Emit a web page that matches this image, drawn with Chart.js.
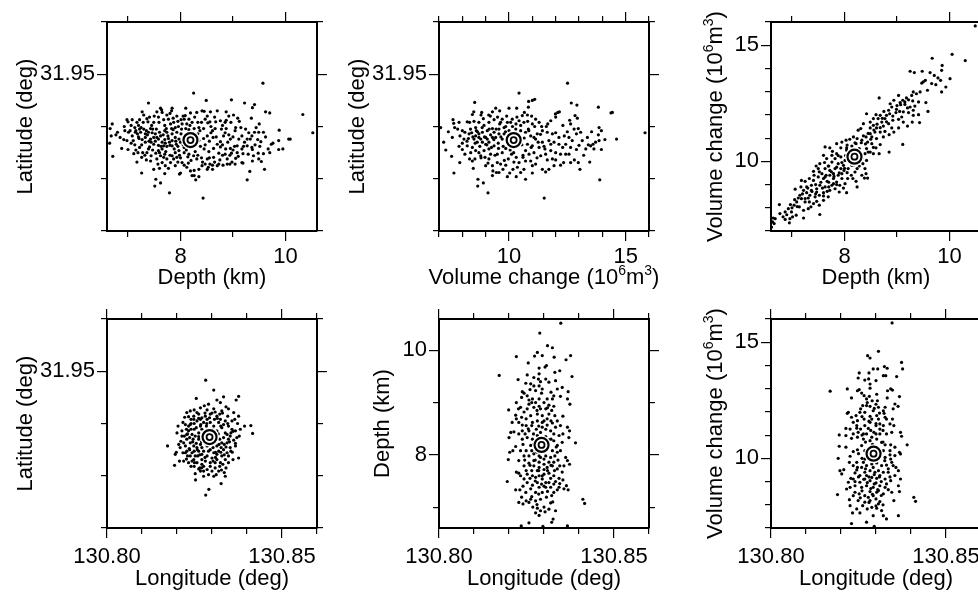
<!DOCTYPE html>
<html lang="en">
<head>
<meta charset="UTF-8">
<title>Mogi source parameter trade-offs</title>
<script src="https://cdn.jsdelivr.net/npm/chart.js"></script>
<style>
  body { margin: 0; width: 978px; height: 594px; overflow: hidden; background: #fff; position: relative; }
  canvas { position: absolute; }
</style>
</head>
<body>
<script>
// best-fit model
const bestLon = 130.8293, bestLat = 31.9374, bestDep = 8.19, bestVol = 10.2;

// axis ranges and ticks
const depthRange = [6.6, 10.6], volRange = [7, 16], latRange = [31.92, 31.96], lonRange = [130.80, 130.86];
const depthMajor = [8, 10], depthMinor = [7, 9];
const volMajor = [10, 15], volMinor = [7, 8, 9, 11, 12, 13, 14, 16];
const latMajor = [31.95], latMinor = [31.92, 31.93, 31.94, 31.96];
const lonMajor = [130.80, 130.85], lonMinor = [130.81, 130.82, 130.83, 130.84, 130.86];

// axis titles, [text, superscript]
const depthTitle = [['Depth (km)', 0]];
const volTitle = [['Volume change (10', 0], ['6', 1], ['m', 0], ['3', 1], [')', 0]];
const latTitle = [['Latitude (deg)', 0]];
const lonTitle = [['Longitude (deg)', 0]];

// samples: depth vs latitude
const depLat = [[9.57,31.9483],[8.25,31.9464],[10.33,31.9423],[10.52,31.9388],[7.39,31.9445],[8.49,31.9450],[8.97,31.9451],[9.22,31.9445],[9.41,31.9442],[9.37,31.9436],[9.62,31.9428],[9.70,31.9426],[6.70,31.9405],[6.66,31.9396],[6.68,31.9382],[6.65,31.9368],[6.77,31.9384],[6.71,31.9343],[6.88,31.9358],[7.00,31.9356],[7.26,31.9311],[7.53,31.9299],[7.62,31.9292],[7.51,31.9286],[7.79,31.9273],[8.43,31.9263],[9.27,31.9298],[9.32,31.9314],[9.60,31.9318],[9.54,31.9333],[9.37,31.9356],[9.88,31.9393],[9.87,31.9373],[10.06,31.9376],[10.09,31.9376],[9.95,31.9357],[9.87,31.9356],[9.76,31.9368],[9.73,31.9366],[9.67,31.9357],[9.48,31.9349],[9.51,31.9362],[9.36,31.9360],[9.17,31.9331],[9.58,31.9348],[9.49,31.9338],[8.19,31.9315],[8.26,31.9316],[8.00,31.9311],[7.98,31.9309],[8.26,31.9306],[8.22,31.9306],[8.29,31.9298],[8.35,31.9304],[8.61,31.9318],[8.53,31.9322],[8.61,31.9326],[8.56,31.9328],[8.81,31.9326],[8.73,31.9328],[8.98,31.9332],[8.89,31.9328],[9.19,31.9330],[9.10,31.9343],[9.05,31.9339],[9.03,31.9362],[9.19,31.9348],[9.27,31.9363],[9.36,31.9382],[9.49,31.9389],[9.41,31.9389],[9.58,31.9389],[9.44,31.9398],[9.35,31.9416],[9.24,31.9395],[9.15,31.9398],[9.04,31.9392],[8.96,31.9408],[9.09,31.9416],[9.01,31.9422],[8.87,31.9428],[8.65,31.9418],[8.67,31.9409],[8.76,31.9411],[8.85,31.9408],[8.51,31.9420],[8.56,31.9409],[8.45,31.9429],[8.41,31.9430],[8.31,31.9427],[8.19,31.9426],[8.10,31.9435],[7.84,31.9435],[7.83,31.9430],[7.62,31.9435],[7.55,31.9428],[7.65,31.9427],[7.64,31.9432],[7.27,31.9428],[7.30,31.9422],[7.22,31.9413],[7.29,31.9408],[7.38,31.9409],[7.49,31.9408],[7.00,31.9409],[6.98,31.9413],[6.94,31.9392],[7.01,31.9389],[7.13,31.9398],[7.22,31.9395],[7.08,31.9382],[7.10,31.9373],[7.21,31.9377],[7.26,31.9365],[7.33,31.9370],[7.44,31.9370],[7.37,31.9384],[7.49,31.9379],[7.58,31.9376],[7.67,31.9384],[7.70,31.9375],[7.62,31.9382],[7.74,31.9389],[7.83,31.9396],[7.90,31.9398],[7.96,31.9400],[8.01,31.9413],[8.07,31.9414],[8.09,31.9421],[8.16,31.9414],[8.22,31.9408],[8.26,31.9396],[8.37,31.9392],[8.44,31.9396],[8.52,31.9407],[8.61,31.9392],[8.66,31.9396],[8.78,31.9395],[8.87,31.9396],[8.82,31.9382],[8.92,31.9384],[8.95,31.9376],[8.76,31.9371],[8.62,31.9379],[8.51,31.9382],[8.44,31.9377],[8.35,31.9373],[8.38,31.9362],[8.45,31.9357],[8.54,31.9352],[8.63,31.9358],[8.73,31.9349],[8.76,31.9361],[8.86,31.9357],[8.94,31.9345],[8.89,31.9338],[8.75,31.9336],[8.63,31.9341],[8.51,31.9338],[8.47,31.9328],[8.42,31.9332],[8.31,31.9338],[8.25,31.9344],[8.16,31.9347],[8.07,31.9350],[7.98,31.9345],[7.93,31.9341],[7.87,31.9338],[7.81,31.9331],[7.77,31.9320],[7.71,31.9325],[7.65,31.9331],[7.57,31.9328],[7.49,31.9318],[7.43,31.9334],[7.35,31.9336],[7.32,31.9345],[7.28,31.9350],[7.19,31.9350],[7.11,31.9348],[7.17,31.9332],[7.26,31.9341],[7.44,31.9344],[7.53,31.9349],[7.58,31.9354],[7.65,31.9357],[7.74,31.9362],[7.84,31.9363],[7.92,31.9366],[8.00,31.9370],[8.06,31.9377],[8.01,31.9386],[7.93,31.9389],[7.84,31.9386],[7.77,31.9377],[7.79,31.9370],[7.88,31.9357],[7.70,31.9347],[7.62,31.9344],[7.55,31.9338],[7.39,31.9357],[7.41,31.9361],[7.13,31.9365],[6.98,31.9373],[6.85,31.9379],[6.80,31.9389],[6.93,31.9400],[7.06,31.9402],[7.17,31.9408],[7.30,31.9395],[7.43,31.9396],[7.54,31.9395],[7.59,31.9408],[7.68,31.9413],[7.77,31.9414],[7.86,31.9416],[7.93,31.9420],[7.74,31.9422],[7.50,31.9420],[7.41,31.9418],[8.10,31.9396],[8.16,31.9394],[8.21,31.9389],[8.33,31.9386],[8.33,31.9408],[8.40,31.9408],[8.27,31.9418],[8.70,31.9430],[8.57,31.9428],[8.87,31.9412],[9.11,31.9376],[9.17,31.9382],[9.27,31.9376],[9.33,31.9376],[9.47,31.9375],[9.53,31.9371],[9.22,31.9370],[9.08,31.9363],[8.95,31.9358],[9.08,31.9350],[8.97,31.9349],[8.85,31.9347],[9.17,31.9357],[9.29,31.9347],[9.39,31.9344],[9.37,31.9334],[9.04,31.9328],[8.94,31.9328],[8.70,31.9325],[8.51,31.9318],[8.41,31.9325],[8.12,31.9322],[8.07,31.9326],[8.03,31.9331],[7.95,31.9332],[7.84,31.9344],[7.74,31.9338],[7.68,31.9341],[7.97,31.9354],[8.07,31.9360],[8.12,31.9364],[7.24,31.9389],[7.33,31.9386],[7.39,31.9389],[7.46,31.9388],[7.52,31.9386],[7.55,31.9379],[7.65,31.9370],[7.71,31.9368],[7.33,31.9379],[7.43,31.9376],[7.27,31.9375],[7.18,31.9386],[7.04,31.9392],[7.14,31.9389],[7.49,31.9366],[7.58,31.9364],[7.68,31.9363],[7.90,31.9379],[7.97,31.9376],[7.84,31.9373],[7.73,31.9396],[7.81,31.9405],[7.87,31.9408],[8.03,31.9405],[8.12,31.9405],[8.25,31.9382],[8.30,31.9379],
  [7.15,31.9392],[7.20,31.9380],[7.25,31.9398],[7.35,31.9392],[7.40,31.9372],[7.47,31.9395],[7.52,31.9372],[7.60,31.9389],[7.63,31.9362],[7.70,31.9392],[7.76,31.9382],[7.80,31.9364],[7.86,31.9394],[7.91,31.9372],[7.95,31.9362],[8.02,31.9395],[8.05,31.9365],[8.11,31.9355],[8.14,31.9342],[8.20,31.9335],[8.28,31.9352],[8.33,31.9345],[8.40,31.9340],[8.47,31.9365],[8.55,31.9372],[8.58,31.9388],[8.68,31.9380],[8.70,31.9366],[8.80,31.9365],[8.85,31.9388],[8.90,31.9370],[9.00,31.9380],[9.05,31.9398],[9.12,31.9410],[8.92,31.9420],[8.80,31.9402],[8.58,31.9400],[8.47,31.9414],[8.35,31.9398],[8.18,31.9402],[8.05,31.9420],[7.95,31.9410],[7.80,31.9425],[7.70,31.9402],[7.58,31.9418],[7.45,31.9402],[7.36,31.9415],[7.20,31.9402],[7.08,31.9413],[6.92,31.9375],[7.06,31.9368],[7.15,31.9355],[7.22,31.9360],[7.36,31.9350],[7.47,31.9355],[7.60,31.9350],[7.72,31.9352],[7.80,31.9345],[7.90,31.9350],[8.00,31.9340],[7.60,31.9320],[7.70,31.9310],[7.90,31.9325],[8.15,31.9330],[8.35,31.9318],[8.55,31.9340],[8.65,31.9332],[8.80,31.9345],[9.00,31.9355],[9.20,31.9362],[9.42,31.9365],[9.30,31.9388],[9.50,31.9405],[9.62,31.9380],[9.70,31.9350]];

// samples: volume change vs latitude
const volLat = [[12.51,31.9483],[10.43,31.9464],[15.83,31.9388],[13.83,31.9437],[14.37,31.9426],[14.43,31.9427],[14.61,31.9376],[8.53,31.9446],[7.07,31.9398],[7.20,31.9370],[7.29,31.9355],[7.54,31.9343],[7.64,31.9311],[7.89,31.9331],[7.60,31.9413],[7.63,31.9406],[7.67,31.9398],[7.40,31.9390],[7.57,31.9379],[8.47,31.9320],[8.67,31.9299],[8.90,31.9292],[8.66,31.9286],[9.10,31.9273],[11.51,31.9263],[13.89,31.9298],[13.04,31.9318],[13.46,31.9332],[12.80,31.9336],[12.97,31.9331],[12.64,31.9331],[12.34,31.9331],[12.57,31.9347],[12.89,31.9356],[13.29,31.9357],[13.50,31.9363],[13.60,31.9366],[13.71,31.9370],[13.86,31.9373],[14.11,31.9375],[13.64,31.9357],[13.96,31.9356],[13.83,31.9384],[13.96,31.9392],[13.54,31.9390],[13.86,31.9398],[12.89,31.9386],[12.97,31.9396],[12.79,31.9395],[12.57,31.9379],[12.37,31.9382],[12.14,31.9379],[12.00,31.9388],[12.31,31.9402],[12.60,31.9412],[12.83,31.9421],[12.93,31.9416],[12.67,31.9445],[12.91,31.9441],[12.09,31.9427],[12.16,31.9428],[12.00,31.9418],[11.99,31.9424],[11.79,31.9411],[11.66,31.9405],[11.40,31.9400],[11.10,31.9452],[11.00,31.9450],[10.84,31.9448],[10.83,31.9437],[10.66,31.9427],[10.33,31.9435],[10.00,31.9435],[9.60,31.9430],[9.43,31.9435],[9.29,31.9428],[9.13,31.9422],[8.83,31.9427],[8.80,31.9422],[8.49,31.9428],[8.43,31.9423],[8.21,31.9409],[8.31,31.9408],[8.00,31.9392],[8.11,31.9389],[7.90,31.9382],[8.29,31.9386],[8.26,31.9377],[8.60,31.9392],[8.71,31.9386],[8.93,31.9402],[9.14,31.9408],[9.36,31.9413],[9.51,31.9418],[9.71,31.9414],[9.93,31.9408],[10.14,31.9414],[10.34,31.9418],[10.57,31.9421],[10.79,31.9422],[10.97,31.9420],[11.14,31.9414],[11.29,31.9408],[11.00,31.9405],[10.83,31.9395],[10.71,31.9389],[10.93,31.9382],[11.07,31.9379],[11.21,31.9386],[11.43,31.9392],[11.64,31.9389],[11.86,31.9386],[11.71,31.9373],[11.93,31.9370],[12.14,31.9366],[11.43,31.9370],[11.29,31.9360],[11.54,31.9357],[11.79,31.9354],[12.00,31.9350],[11.57,31.9347],[11.36,31.9344],[11.64,31.9336],[11.86,31.9338],[11.93,31.9325],[11.71,31.9318],[11.57,31.9313],[11.14,31.9328],[11.00,31.9325],[10.93,31.9334],[10.71,31.9334],[10.60,31.9341],[10.43,31.9331],[10.21,31.9332],[10.17,31.9318],[10.31,31.9304],[10.71,31.9299],[10.03,31.9311],[9.93,31.9304],[9.86,31.9326],[9.64,31.9328],[9.50,31.9331],[9.29,31.9325],[9.31,31.9315],[9.57,31.9312],[9.00,31.9325],[9.14,31.9338],[8.97,31.9341],[8.79,31.9344],[8.54,31.9338],[8.43,31.9334],[8.31,31.9338],[8.11,31.9347],[8.00,31.9356],[7.86,31.9362],[8.21,31.9363],[8.43,31.9360],[8.64,31.9370],[8.79,31.9376],[9.00,31.9379],[9.21,31.9384],[9.36,31.9389],[9.57,31.9395],[9.79,31.9398],[10.00,31.9392],[10.29,31.9395],[10.50,31.9402],[10.64,31.9408],[10.43,31.9411],[10.07,31.9408],[9.71,31.9376],[9.54,31.9368],[9.36,31.9363],[9.14,31.9357],[8.93,31.9354],[8.71,31.9350],[9.50,31.9347],[9.71,31.9350],[9.86,31.9358],[10.71,31.9354],[10.86,31.9347],[11.07,31.9350],[10.64,31.9318],[10.50,31.9312],[10.36,31.9322],[9.97,31.9338],[9.14,31.9370],[9.00,31.9366],[8.86,31.9389],[9.07,31.9392],[9.29,31.9396],[8.50,31.9376],[8.07,31.9376],[8.36,31.9350],[8.57,31.9354],[9.57,31.9386],[9.43,31.9379],[10.50,31.9392],[10.79,31.9366],[11.00,31.9363],[11.14,31.9376],[12.21,31.9347],[12.43,31.9347],[12.00,31.9336],[12.21,31.9326],[11.79,31.9366],[8.71,31.9408],[8.57,31.9398],[8.40,31.9388],[7.86,31.9408],[9.93,31.9379],[9.79,31.9386],[9.64,31.9408],[9.86,31.9400],[10.21,31.9382],[9.21,31.9347],[9.29,31.9306],[9.46,31.9312],[9.74,31.9318],[11.43,31.9318],[11.00,31.9311],[10.31,31.9341],[10.11,31.9347],[12.71,31.9373],[13.14,31.9373],[13.36,31.9379],[13.07,31.9389],[12.64,31.9405],[12.43,31.9366],[12.64,31.9360],[13.00,31.9364],[8.71,31.9379],[8.86,31.9370],[8.57,31.9382],[9.07,31.9376],[9.29,31.9379],
  [8.35,31.9395],[8.45,31.9380],[8.55,31.9368],[8.65,31.9390],[8.75,31.9362],[8.85,31.9398],[8.95,31.9380],[9.05,31.9365],[9.15,31.9395],[9.25,31.9360],[9.35,31.9375],[9.45,31.9395],[9.55,31.9358],[9.65,31.9380],[9.75,31.9362],[9.85,31.9390],[9.95,31.9366],[10.05,31.9355],[10.15,31.9400],[10.40,31.9385],[10.55,31.9365],[10.65,31.9378],[10.85,31.9392],[10.95,31.9360],[11.10,31.9400],[11.25,31.9370],[11.35,31.9385],[11.50,31.9362],[11.60,31.9400],[8.50,31.9410],[8.90,31.9415],[9.20,31.9420],[9.60,31.9405],[9.90,31.9420],[10.30,31.9405],[10.80,31.9410],[8.80,31.9340],[9.10,31.9330],[9.40,31.9345],[9.80,31.9335],[10.20,31.9350],[10.60,31.9345],[11.20,31.9340],[8.20,31.9372],[8.00,31.9368],[7.80,31.9395],[12.30,31.9360],[12.50,31.9390],[13.20,31.9345],[13.40,31.9365]];

// samples: depth vs volume change
const depVol = [[10.49,15.83],[10.05,14.61],[10.30,14.34],[9.67,14.44],[9.86,14.13],[9.85,13.92],[9.25,13.88],[9.33,13.82],[9.48,13.88],[9.63,13.82],[9.71,13.70],[9.78,13.59],[9.83,13.49],[10.01,13.56],[9.54,13.49],[9.50,13.42],[9.47,13.37],[9.66,13.35],[9.74,13.30],[9.93,13.20],[9.85,12.99],[9.58,13.06],[9.44,12.99],[9.37,12.91],[9.31,12.99],[9.28,12.84],[9.03,12.84],[8.66,12.73],[9.18,12.73],[9.11,12.63],[9.15,12.56],[9.06,12.53],[9.55,12.53],[9.41,12.56],[9.34,12.38],[9.25,12.34],[9.20,12.30],[9.59,12.15],[9.41,12.01],[9.43,11.67],[9.29,11.69],[9.20,11.52],[9.31,11.98],[9.12,12.13],[8.99,12.24],[8.90,12.34],[8.84,12.20],[8.75,12.15],[8.60,12.01],[8.42,12.05],[8.77,11.84],[8.71,11.69],[8.64,11.84],[8.55,11.55],[8.49,11.44],[8.61,11.44],[8.74,11.52],[8.84,11.62],[8.92,11.77],[9.03,11.81],[9.09,11.91],[8.94,11.26],[8.85,11.15],[8.77,11.29],[8.68,11.26],[8.58,11.26],[8.49,11.19],[8.41,11.05],[8.31,11.41],[8.26,11.34],[8.17,11.05],[8.10,10.95],[8.03,10.91],[8.24,10.98],[8.33,10.91],[8.44,10.83],[8.52,10.76],[8.60,10.58],[8.68,10.72],[8.66,10.33],[8.85,10.40],[9.11,10.73],[8.49,10.40],[8.39,10.33],[8.42,10.04],[8.35,9.90],[8.28,9.80],[8.39,9.69],[8.38,9.28],[8.44,9.28],[8.22,9.14],[8.24,8.90],[8.20,9.54],[8.13,9.40],[8.05,9.51],[7.99,9.61],[7.93,9.69],[8.01,10.04],[7.93,10.19],[7.85,10.33],[7.77,10.43],[7.72,10.58],[7.63,10.62],[7.93,10.58],[7.82,10.12],[7.76,9.97],[7.66,10.12],[7.60,10.26],[7.53,9.90],[7.46,9.80],[7.41,9.57],[7.50,9.69],[7.63,9.69],[7.72,9.61],[7.79,9.47],[7.88,9.40],[8.01,9.04],[7.98,8.85],[8.04,8.65],[7.90,8.68],[7.82,8.82],[7.76,8.97],[7.67,9.14],[7.60,9.26],[7.50,9.33],[7.41,9.18],[7.33,9.26],[7.25,9.14],[7.18,9.18],[7.17,8.90],[7.22,8.75],[7.28,8.65],[7.34,8.54],[7.44,8.47],[7.52,8.54],[7.60,8.65],[7.67,8.71],[7.69,8.47],[7.60,8.32],[7.52,8.11],[7.41,8.18],[7.33,8.25],[7.25,8.25],[7.18,8.39],[7.12,8.42],[7.06,8.80],[7.14,8.04],[7.04,8.11],[6.97,8.14],[6.93,7.96],[6.87,7.82],[6.83,7.61],[6.96,7.53],[6.95,7.35],[7.01,7.61],[7.08,7.68],[7.22,7.56],[7.53,7.71],[6.76,8.14],[6.68,7.53],[6.64,7.56],[6.63,7.39],[6.61,7.17],[6.66,7.32],[7.31,7.96],[7.47,8.82],[7.53,8.97],[7.63,8.90],[7.79,9.26],[7.85,9.11],[7.95,9.26],[8.07,9.69],[8.14,9.83],[8.17,10.00],[8.26,10.12],[8.30,10.26],[8.20,10.33],[8.10,10.33],[8.04,10.48],[8.14,10.66],[8.22,10.76],[8.04,10.58],[7.95,10.83],[7.85,10.76],[7.76,10.26],[7.69,9.80],[7.57,9.47],[7.37,8.97],[7.28,8.90],[7.47,8.68],[7.37,8.75],[7.88,9.90],[7.82,9.69],[8.42,10.55],[8.52,11.05],[8.36,11.62],[8.49,11.69],[8.55,11.84],[8.68,11.98],[8.80,11.98],[8.98,12.10],[8.87,12.48],[8.94,12.63],[9.07,12.44],[9.22,12.10],[9.31,12.20],[9.12,11.69],[9.03,11.44],[8.90,11.44],[8.74,11.05],[8.61,10.98],[8.55,10.33],[8.33,10.12],[8.24,9.69],[8.16,9.26],[8.06,9.26],[7.95,9.47],[8.41,9.47],[8.33,9.40],[7.91,8.97],[7.72,8.75],[7.15,8.54],[7.09,8.25],[6.99,7.82],[7.22,7.89],[7.36,8.04],[7.47,8.28],[7.60,8.51],[7.79,9.04],[7.98,9.83],[8.07,10.19],[7.72,9.40],[7.63,9.33],[7.31,8.42],[6.87,7.50],[6.77,7.75],
  [7.20,8.60],[7.30,8.85],[7.38,8.70],[7.45,9.00],[7.55,9.10],[7.58,8.85],[7.65,9.40],[7.70,9.10],[7.75,9.55],[7.80,9.35],[7.85,9.75],[7.90,9.50],[7.95,9.95],[8.00,9.70],[8.02,10.25],[8.08,10.05],[8.12,10.45],[8.28,10.55],[8.32,10.80],[8.36,11.10],[8.45,11.20],[8.50,10.95],[8.56,11.35],[8.62,11.60],[8.68,11.45],[8.72,11.85],[8.80,11.70],[8.86,12.05],[8.92,11.95],[9.00,12.40],[9.05,12.15],[9.15,12.45],[9.22,12.65],[9.30,12.60],[7.05,8.35],[7.10,8.05],[6.90,7.70],[7.00,8.00],[7.42,9.40],[7.52,9.55],[7.62,9.95],[7.70,9.80],[8.18,9.85],[8.30,9.95],[8.45,10.40],[8.55,10.60],[8.40,10.75],[8.20,10.80],[8.05,10.70],[7.88,10.25],[7.70,8.90],[7.85,9.00],[7.45,8.60],[7.25,8.40]];

// samples: longitude vs latitude
const lonLat = [[130.8282,31.9483],[130.8305,31.9464],[130.8255,31.9448],[130.8333,31.9451],[130.8376,31.9452],[130.8369,31.9445],[130.8314,31.9445],[130.8324,31.9440],[130.8290,31.9437],[130.8340,31.9432],[130.8347,31.9428],[130.8278,31.9434],[130.8267,31.9430],[130.8249,31.9426],[130.8238,31.9424],[130.8233,31.9413],[130.8222,31.9412],[130.8262,31.9418],[130.8286,31.9426],[130.8305,31.9428],[130.8328,31.9424],[130.8345,31.9414],[130.8362,31.9421],[130.8376,31.9414],[130.8365,31.9408],[130.8357,31.9405],[130.8373,31.9400],[130.8393,31.9395],[130.8411,31.9396],[130.8416,31.9381],[130.8378,31.9376],[130.8371,31.9373],[130.8362,31.9368],[130.8367,31.9357],[130.8352,31.9354],[130.8376,31.9334],[130.8360,31.9331],[130.8347,31.9325],[130.8340,31.9315],[130.8327,31.9311],[130.8335,31.9306],[130.8338,31.9299],[130.8326,31.9285],[130.8305,31.9299],[130.8276,31.9299],[130.8253,31.9292],[130.8252,31.9304],[130.8265,31.9315],[130.8240,31.9318],[130.8233,31.9325],[130.8219,31.9328],[130.8207,31.9328],[130.8193,31.9320],[130.8198,31.9345],[130.8195,31.9341],[130.8173,31.9357],[130.8203,31.9395],[130.8200,31.9382],[130.8214,31.9376],[130.8219,31.9363],[130.8224,31.9357],[130.8228,31.9347],[130.8238,31.9338],[130.8248,31.9331],[130.8257,31.9325],[130.8271,31.9322],[130.8281,31.9328],[130.8295,31.9318],[130.8309,31.9315],[130.8324,31.9325],[130.8338,31.9331],[130.8343,31.9344],[130.8333,31.9350],[130.8319,31.9347],[130.8314,31.9357],[130.8328,31.9363],[130.8343,31.9363],[130.8352,31.9376],[130.8338,31.9382],[130.8328,31.9392],[130.8314,31.9386],[130.8305,31.9395],[130.8295,31.9402],[130.8286,31.9408],[130.8276,31.9402],[130.8267,31.9395],[130.8257,31.9405],[130.8248,31.9408],[130.8238,31.9398],[130.8233,31.9386],[130.8243,31.9379],[130.8252,31.9376],[130.8262,31.9370],[130.8267,31.9360],[130.8257,31.9354],[130.8248,31.9357],[130.8238,31.9363],[130.8228,31.9370],[130.8224,31.9398],[130.8228,31.9421],[130.8248,31.9414],[130.8271,31.9411],[130.8295,31.9418],[130.8314,31.9414],[130.8324,31.9408],[130.8338,31.9405],[130.8347,31.9395],[130.8357,31.9389],[130.8367,31.9386],[130.8271,31.9389],[130.8276,31.9379],[130.8286,31.9357],[130.8295,31.9350],[130.8305,31.9344],[130.8286,31.9338],[130.8271,31.9341],[130.8262,31.9347],[130.8276,31.9347],[130.8300,31.9334],[130.8314,31.9331],[130.8328,31.9338],[130.8322,31.9318],[130.8300,31.9309],[130.8290,31.9302],[130.8286,31.9312],[130.8267,31.9309],[130.8249,31.9318],[130.8243,31.9344],[130.8230,31.9338],[130.8217,31.9344],[130.8209,31.9354],[130.8221,31.9376],[130.8236,31.9373],[130.8249,31.9389],[130.8262,31.9382],[130.8307,31.9366],[130.8322,31.9370],[130.8333,31.9373],[130.8343,31.9379],[130.8319,31.9402],[130.8307,31.9408],[130.8297,31.9389],[130.8284,31.9395],[130.8290,31.9382],[130.8267,31.9408],[130.8257,31.9421],[130.8240,31.9408],[130.8233,31.9395],[130.8217,31.9402],[130.8291,31.9274],[130.8282,31.9263],[130.8381,31.9389],[130.8367,31.9362],[130.8303,31.9328],[130.8312,31.9302],[130.8281,31.9366],[130.8252,31.9338],[130.8243,31.9328],[130.8276,31.9318],[130.8224,31.9344],[130.8228,31.9379],[130.8246,31.9370],[130.8255,31.9362],[130.8271,31.9354],[130.8281,31.9362],[130.8290,31.9347],[130.8303,31.9354],[130.8314,31.9341],[130.8326,31.9354],[130.8335,31.9360],[130.8347,31.9370],[130.8354,31.9382],[130.8333,31.9398],[130.8322,31.9418],[130.8309,31.9422],[130.8293,31.9411],[130.8281,31.9414],[130.8268,31.9398],[130.8249,31.9400],[130.8240,31.9389],[130.8227,31.9389],[130.8214,31.9386],[130.8211,31.9366],[130.8205,31.9360],[130.8236,31.9350],[130.8249,31.9347],[130.8259,31.9338],[130.8271,31.9331],[130.8309,31.9325],[130.8331,31.9322],[130.8347,31.9338],[130.8354,31.9347],[130.8227,31.9332],[130.8262,31.9313],[130.8319,31.9309],[130.8276,31.9309],
  [130.8255,31.9392],[130.8262,31.9375],[130.8270,31.9365],[130.8278,31.9385],[130.8285,31.9400],[130.8298,31.9375],[130.8310,31.9345],[130.8318,31.9380],[130.8325,31.9395],[130.8335,31.9340],[130.8340,31.9355],[130.8350,31.9365],[130.8360,31.9385],[130.8245,31.9365],[130.8235,31.9352],[130.8230,31.9380],[130.8265,31.9340],[130.8280,31.9335],[130.8295,31.9325],[130.8310,31.9335],[130.8325,31.9345],[130.8300,31.9420],[130.8280,31.9420],[130.8262,31.9410],[130.8315,31.9410],[130.8330,31.9420],[130.8250,31.9325],[130.8270,31.9315],[130.8320,31.9360],[130.8240,31.9400],[130.8358,31.9345],[130.8345,31.9400],[130.8288,31.9375],[130.8302,31.9388],[130.8258,31.9350]];

// samples: longitude vs depth
const lonDep = [[130.8348,10.52],[130.8288,10.33],[130.8221,9.88],[130.8172,9.52],[130.8310,10.09],[130.8324,10.05],[130.8281,9.96],[130.8273,9.89],[130.8295,9.90],[130.8307,9.71],[130.8329,9.87],[130.8376,9.90],[130.8363,9.82],[130.8255,9.76],[130.8286,9.66],[130.8303,9.68],[130.8226,9.44],[130.8252,9.53],[130.8271,9.48],[130.8286,9.55],[130.8284,9.45],[130.8331,9.58],[130.8345,9.61],[130.8380,9.50],[130.8305,9.45],[130.8314,9.39],[130.8333,9.42],[130.8262,9.36],[130.8248,9.37],[130.8243,9.18],[130.8252,9.13],[130.8271,9.32],[130.8286,9.32],[130.8276,9.23],[130.8295,9.26],[130.8293,9.18],[130.8352,9.29],[130.8338,9.26],[130.8369,9.21],[130.8347,9.12],[130.8367,9.07],[130.8374,8.97],[130.8238,9.21],[130.8236,9.10],[130.8221,9.00],[130.8257,9.05],[130.8267,9.07],[130.8286,9.07],[130.8309,9.07],[130.8324,9.07],[130.8328,9.13],[130.8314,8.95],[130.8328,8.93],[130.8305,8.88],[130.8286,8.93],[130.8271,8.91],[130.8252,8.88],[130.8233,8.91],[130.8227,8.88],[130.8199,8.86],[130.8219,8.76],[130.8236,8.72],[130.8249,8.69],[130.8262,8.75],[130.8281,8.78],[130.8295,8.75],[130.8314,8.78],[130.8331,8.75],[130.8354,8.74],[130.8338,8.65],[130.8324,8.61],[130.8309,8.57],[130.8295,8.62],[130.8281,8.65],[130.8267,8.62],[130.8249,8.56],[130.8257,8.46],[130.8246,8.40],[130.8228,8.40],[130.8214,8.44],[130.8205,8.43],[130.8200,8.33],[130.8238,8.30],[130.8252,8.33],[130.8267,8.30],[130.8281,8.37],[130.8290,8.43],[130.8305,8.49],[130.8319,8.46],[130.8333,8.53],[130.8347,8.56],[130.8367,8.53],[130.8354,8.40],[130.8373,8.46],[130.8371,8.33],[130.8390,8.23],[130.8352,8.24],[130.8338,8.18],[130.8328,8.27],[130.8314,8.29],[130.8324,8.08],[130.8338,8.05],[130.8347,8.08],[130.8362,7.95],[130.8367,7.89],[130.8373,7.82],[130.8357,7.79],[130.8352,7.67],[130.8338,7.73],[130.8324,7.79],[130.8314,7.86],[130.8300,7.92],[130.8286,7.98],[130.8271,8.02],[130.8257,7.98],[130.8243,7.98],[130.8233,8.08],[130.8219,8.16],[130.8211,8.08],[130.8202,8.05],[130.8198,7.91],[130.8228,7.89],[130.8243,7.79],[130.8257,7.84],[130.8271,7.79],[130.8286,7.76],[130.8300,7.72],[130.8314,7.65],[130.8328,7.60],[130.8343,7.55],[130.8354,7.52],[130.8364,7.41],[130.8369,7.33],[130.8357,7.35],[130.8338,7.33],[130.8328,7.28],[130.8322,7.22],[130.8307,7.19],[130.8290,7.15],[130.8276,7.12],[130.8262,7.15],[130.8249,7.12],[130.8236,7.19],[130.8228,7.09],[130.8240,7.06],[130.8257,7.09],[130.8268,7.00],[130.8281,6.98],[130.8290,6.93],[130.8303,6.91],[130.8314,6.96],[130.8333,6.93],[130.8319,7.08],[130.8305,7.38],[130.8293,7.44],[130.8281,7.47],[130.8267,7.42],[130.8252,7.47],[130.8243,7.54],[130.8233,7.60],[130.8228,7.65],[130.8221,7.67],[130.8252,7.63],[130.8267,7.60],[130.8286,7.60],[130.8295,7.54],[130.8314,7.47],[130.8328,7.44],[130.8343,7.38],[130.8195,7.49],[130.8219,7.33],[130.8231,7.33],[130.8248,7.28],[130.8276,7.28],[130.8295,7.28],[130.8276,6.89],[130.8286,6.84],[130.8326,6.77],[130.8322,6.71],[130.8257,6.70],[130.8235,6.64],[130.8297,6.63],[130.8367,6.64],[130.8411,7.15],[130.8416,7.07],[130.8221,8.69],[130.8209,8.62],[130.8238,8.57],[130.8262,8.18],[130.8276,8.14],[130.8305,8.08],[130.8271,7.89],[130.8286,7.86],[130.8265,8.56],[130.8278,8.49],[130.8295,8.53],[130.8309,8.69],[130.8322,8.85],[130.8290,8.88],[130.8276,9.00],[130.8257,8.97],[130.8243,8.82],[130.8249,8.08],[130.8265,8.08],[130.8305,7.98],[130.8319,7.95],[130.8328,7.86],[130.8309,7.76],[130.8281,7.70],[130.8265,7.70],[130.8249,7.70],[130.8276,7.57],[130.8300,7.63],[130.8319,7.55],[130.8305,7.47],[130.8286,7.38],[130.8262,7.35],[130.8319,7.38],[130.8333,7.49],[130.8345,7.79],[130.8331,7.98],[130.8343,8.37],[130.8328,8.40],[130.8238,8.46],[130.8228,8.62],
  [130.8280,8.05],[130.8290,7.95],[130.8300,7.82],[130.8285,7.70],[130.8295,7.60],[130.8275,7.50],[130.8300,7.40],[130.8310,7.30],[130.8285,7.25],[130.8265,7.20],[130.8310,7.70],[130.8320,7.80],[130.8275,7.90],[130.8260,7.80],[130.8260,7.55],[130.8240,7.40],[130.8320,8.30],[130.8305,8.35],[130.8270,8.40],[130.8255,8.50],[130.8285,8.55],[130.8300,8.65],[130.8320,8.65],[130.8310,8.90],[130.8280,8.85],[130.8265,9.00],[130.8300,9.00],[130.8320,9.20],[130.8260,9.25],[130.8290,9.40],[130.8335,8.15],[130.8340,7.90],[130.8330,7.70],[130.8245,7.90],[130.8240,8.20],[130.8345,7.45],[130.8325,7.10],[130.8280,7.05],[130.8300,7.00],[130.8270,8.20],[130.8295,8.25]];

// samples: longitude vs volume change
const lonVol = [[130.8346,15.83],[130.8307,14.61],[130.8276,14.42],[130.8283,14.32],[130.8373,14.13],[130.8376,13.85],[130.8324,13.95],[130.8332,13.88],[130.8292,13.85],[130.8305,13.85],[130.8321,13.56],[130.8328,13.56],[130.8252,13.68],[130.8280,13.68],[130.8249,13.46],[130.8268,13.37],[130.8279,13.42],[130.8300,13.35],[130.8359,13.52],[130.8169,12.89],[130.8218,12.99],[130.8247,12.91],[130.8252,12.96],[130.8283,13.02],[130.8283,13.20],[130.8333,12.91],[130.8342,12.99],[130.8347,12.94],[130.8259,12.81],[130.8266,12.70],[130.8281,12.67],[130.8302,12.76],[130.8289,12.48],[130.8304,12.48],[130.8332,12.60],[130.8367,12.66],[130.8230,12.60],[130.8262,12.27],[130.8256,12.13],[130.8273,12.27],[130.8283,12.24],[130.8300,12.33],[130.8326,12.20],[130.8321,12.05],[130.8349,12.13],[130.8354,12.34],[130.8363,12.24],[130.8221,11.98],[130.8218,11.94],[130.8230,11.77],[130.8243,11.84],[130.8254,11.98],[130.8268,11.98],[130.8283,11.81],[130.8302,11.84],[130.8323,11.94],[130.8330,11.69],[130.8347,11.69],[130.8340,11.48],[130.8351,11.41],[130.8321,11.41],[130.8311,11.48],[130.8300,11.41],[130.8283,11.55],[130.8266,11.69],[130.8247,11.62],[130.8235,11.55],[130.8245,11.41],[130.8214,11.29],[130.8226,11.26],[130.8256,11.26],[130.8278,11.29],[130.8294,11.12],[130.8311,11.05],[130.8330,11.05],[130.8345,11.12],[130.8370,11.12],[130.8373,10.95],[130.8389,10.58],[130.8195,11.01],[130.8214,10.98],[130.8230,10.86],[130.8247,10.91],[130.8264,10.83],[130.8283,10.76],[130.8302,10.83],[130.8316,10.69],[130.8326,10.58],[130.8342,10.58],[130.8354,10.48],[130.8367,10.26],[130.8370,10.19],[130.8354,10.12],[130.8342,9.97],[130.8326,10.04],[130.8311,10.09],[130.8259,10.55],[130.8247,10.37],[130.8235,10.29],[130.8226,10.09],[130.8214,10.48],[130.8195,10.52],[130.8192,10.00],[130.8197,9.47],[130.8202,9.33],[130.8208,9.51],[130.8224,9.83],[130.8235,9.69],[130.8247,9.61],[130.8259,9.61],[130.8273,9.69],[130.8288,9.76],[130.8302,9.80],[130.8316,9.69],[130.8330,9.71],[130.8345,9.83],[130.8357,9.61],[130.8364,9.47],[130.8354,9.26],[130.8370,9.11],[130.8364,8.82],[130.8367,8.57],[130.8342,9.04],[130.8326,9.11],[130.8311,9.26],[130.8297,9.40],[130.8283,9.47],[130.8268,9.40],[130.8254,9.26],[130.8240,9.37],[130.8228,9.14],[130.8221,8.97],[130.8226,8.75],[130.8216,8.68],[130.8240,8.82],[130.8254,8.97],[130.8268,9.11],[130.8283,9.04],[130.8300,8.94],[130.8311,8.82],[130.8326,8.75],[130.8335,8.65],[130.8345,8.54],[130.8321,8.47],[130.8302,8.54],[130.8283,8.57],[130.8268,8.39],[130.8252,8.47],[130.8235,8.39],[130.8224,8.22],[130.8249,8.18],[130.8268,8.11],[130.8283,8.18],[130.8300,8.25],[130.8311,8.14],[130.8321,7.53],[130.8330,7.39],[130.8316,7.75],[130.8302,7.85],[130.8288,7.89],[130.8275,7.82],[130.8254,7.65],[130.8233,7.65],[130.8226,7.96],[130.8190,8.44],[130.8351,8.18],[130.8364,7.53],[130.8408,8.32],[130.8413,8.15],[130.8273,7.25],[130.8230,7.19],[130.8295,7.07],[130.8292,7.53],[130.8307,8.04],[130.8245,7.82],[130.8268,11.41],[130.8288,11.69],[130.8307,11.69],[130.8273,11.05],[130.8288,10.91],[130.8268,10.33],[130.8321,10.33],[130.8268,9.97],[130.8292,9.61],[130.8307,9.47],[130.8321,9.40],[130.8273,9.26],[130.8288,9.18],[130.8302,9.14],[130.8259,8.75],[130.8273,8.82],[130.8292,8.75],[130.8307,8.61],[130.8278,8.32],[130.8292,8.39],[130.8240,8.54],[130.8262,7.96],[130.8335,9.40],[130.8235,9.11],[130.8245,9.83],[130.8264,9.83],[130.8340,10.33],[130.8349,9.69],[130.8249,11.12],[130.8235,11.05],[130.8264,11.05],[130.8311,11.26],[130.8326,11.77],[130.8292,12.05],[130.8273,12.56],[130.8307,12.20],
  [130.8280,9.20],[130.8295,9.30],[130.8310,9.20],[130.8265,9.10],[130.8275,8.95],[130.8295,8.90],[130.8315,9.00],[130.8285,8.70],[130.8305,8.65],[130.8260,8.60],[130.8290,8.45],[130.8315,8.40],[130.8330,8.90],[130.8340,9.20],[130.8250,9.20],[130.8245,9.50],[130.8270,9.55],[130.8290,9.85],[130.8325,9.90],[130.8260,10.00],[130.8250,10.20],[130.8340,10.15],[130.8320,10.70],[130.8290,10.60],[130.8270,10.70],[130.8260,11.00],[130.8285,11.20],[130.8300,11.05],[130.8320,11.20],[130.8300,11.50],[130.8280,11.60],[130.8260,11.80],[130.8310,11.95],[130.8295,12.15],[130.8275,12.40],[130.8245,11.30],[130.8240,9.00],[130.8255,8.30],[130.8280,8.10],[130.8300,7.95],[130.8320,8.00],[130.8335,9.55]];

const FONT = '"Liberation Sans", Arial, Helvetica, sans-serif';

const AX = {
  depth: { range: depthRange, major: depthMajor, minor: depthMinor, fmt: v => String(v), title: depthTitle, gap: 50 },
  vol:   { range: volRange,   major: volMajor,   minor: volMinor,   fmt: v => String(v), title: volTitle,   gap: 49 },
  lat:   { range: latRange,   major: latMajor,   minor: latMinor,   fmt: v => v.toFixed(2), title: latTitle, gap: 75 },
  lon:   { range: lonRange,   major: lonMajor,   minor: lonMinor,   fmt: v => v.toFixed(2), title: lonTitle, gap: 51 }
};

// lab: tick-label padding and title baseline below the frame, per row
const panels = [
  { left: 0,   top: 0,   x: 'depth', y: 'lat',   pts: depLat, best: [bestDep, bestLat], lab: 3, tit: 53 },
  { left: 332, top: 0,   x: 'vol',   y: 'lat',   pts: volLat, best: [bestVol, bestLat], lab: 3, tit: 53 },
  { left: 664, top: 0,   x: 'depth', y: 'vol',   pts: depVol, best: [bestDep, bestVol], lab: 3, tit: 53 },
  { left: 0,   top: 297, x: 'lon',   y: 'lat',   pts: lonLat, best: [bestLon, bestLat], lab: 6, tit: 57 },
  { left: 332, top: 297, x: 'lon',   y: 'depth', pts: lonDep, best: [bestLon, bestDep], lab: 6, tit: 57 },
  { left: 664, top: 297, x: 'lon',   y: 'vol',   pts: lonVol, best: [bestLon, bestVol], lab: 6, tit: 57 }
];

function zeroPad(s) { s.paddingLeft = s.paddingRight = s.paddingTop = s.paddingBottom = 0; }

// four axes per direction: labelled major, minor, and the mirrored ones on the far side
function axisScales(ax, dir, lab) {
  const horiz = dir === 'x';
  const near = horiz ? 'bottom' : 'left', far = horiz ? 'top' : 'right';
  const base = (pos, list, len) => ({
    type: 'linear', position: pos, min: ax.range[0], max: ax.range[1], bounds: 'data',
    afterBuildTicks: s => { s.ticks = list.map(v => ({ value: v })); },
    ticks: { display: false },
    grid: { drawOnChartArea: false, drawTicks: true, tickLength: len, color: '#000', lineWidth: 1.2 },
    border: { display: false },
    weight: 0,
    afterFit: s => { zeroPad(s); if (horiz) s.height = 0; else s.width = 0; }
  });
  const main = base(near, ax.major, 10);
  main.weight = 1;
  main.z = 1;
  main.ticks = { display: true, color: '#000', font: { family: FONT, size: 22 }, padding: horiz ? lab : 2,
                 maxRotation: 0, autoSkip: false, callback: v => ax.fmt(v) };
  main.border = { display: true, color: '#000', width: 2 };
  main.afterFit = s => { zeroPad(s); if (horiz) s.height = 66; else s.width = 107; };
  const opp = base(far, ax.major, 10);
  opp.z = 1;
  opp.border = { display: true, color: '#000', width: 2 };
  return {
    [dir]: main,
    [dir + 'Minor']: base(near, ax.minor, 6),
    [dir + 'Far']: opp,
    [dir + 'FarMinor']: base(far, ax.minor, 6)
  };
}

function drawParts(ctx, parts, cx, base) {
  const fontOf = sup => (sup ? 14 : 22) + 'px ' + FONT;
  let w = 0;
  for (const [t, sup] of parts) { ctx.font = fontOf(sup); w += ctx.measureText(t).width; }
  let x = cx - w / 2;
  for (const [t, sup] of parts) {
    ctx.font = fontOf(sup);
    ctx.fillText(t, x, base - (sup ? 9 : 0));
    x += ctx.measureText(t).width;
  }
}

function titlePlugin(xAx, yAx, tit) {
  return {
    id: 'gmtTitles',
    afterDraw(chart) {
      const { ctx, chartArea: a } = chart;
      ctx.save();
      ctx.fillStyle = '#000';
      ctx.textAlign = 'left';
      ctx.textBaseline = 'alphabetic';
      drawParts(ctx, xAx.title, (a.left + a.right) / 2, a.bottom + tit);
      ctx.translate(a.left - yAx.gap, (a.top + a.bottom) / 2);
      ctx.rotate(-Math.PI / 2);
      drawParts(ctx, yAx.title, 0, 0);
      ctx.restore();
    }
  };
}

panels.forEach(p => {
  const cv = document.createElement('canvas');
  cv.width = 330; cv.height = 297;
  cv.style.left = p.left + 'px';
  cv.style.top = p.top + 'px';
  document.body.appendChild(cv);
  const xAx = AX[p.x], yAx = AX[p.y];
  const best = [{ x: p.best[0], y: p.best[1] }];
  new Chart(cv, {
    type: 'scatter',
    data: {
      datasets: [
        { data: p.pts.map(([x, y]) => ({ x, y })), pointRadius: 1.6, pointBackgroundColor: '#000',
          pointBorderWidth: 0, order: 3, xAxisID: 'x', yAxisID: 'y' },
        { data: best, pointRadius: 9.5, pointBackgroundColor: '#fff', pointBorderWidth: 0, order: 2, xAxisID: 'x', yAxisID: 'y' },
        { data: best, pointRadius: 7, pointBackgroundColor: '#fff', pointBorderColor: '#000', pointBorderWidth: 2.2, order: 1, xAxisID: 'x', yAxisID: 'y' },
        { data: best, pointRadius: 3, pointBackgroundColor: '#fff', pointBorderColor: '#000', pointBorderWidth: 1.8, order: 0, xAxisID: 'x', yAxisID: 'y' }
      ]
    },
    options: {
      responsive: false,
      animation: false,
      devicePixelRatio: 1,
      events: [],
      layout: { padding: { top: 22, right: 13, bottom: 0, left: 0 } },
      plugins: { legend: { display: false }, tooltip: { enabled: false } },
      scales: Object.assign({}, axisScales(xAx, 'x', p.lab), axisScales(yAx, 'y', p.lab))
    },
    plugins: [titlePlugin(xAx, yAx, p.tit)]
  });
});
</script>
</body>
</html>
